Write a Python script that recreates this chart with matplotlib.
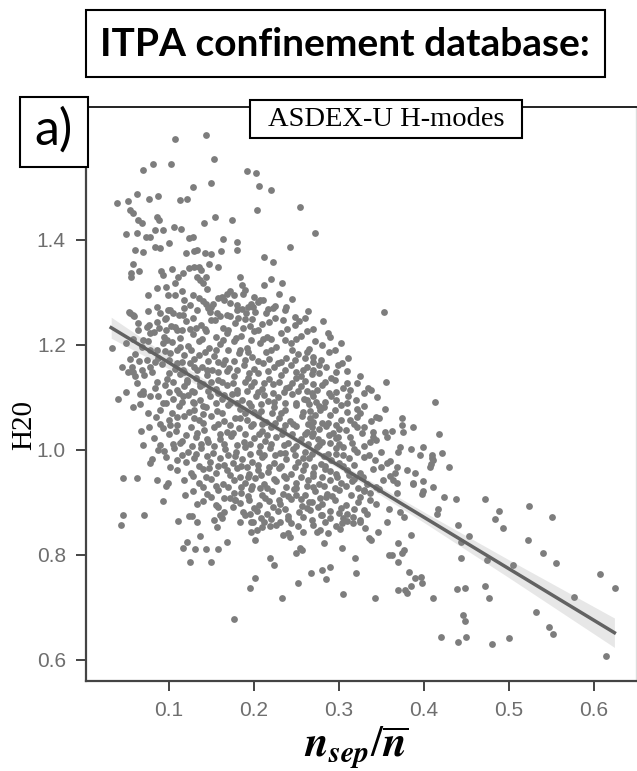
import numpy as np
import matplotlib.pyplot as plt
from matplotlib.patches import Rectangle

plt.rcParams['mathtext.fontset'] = 'stix'

# points above the main cloud (H20 > ~1.25)
upper_pts = [
    (0.107, 1.592), (0.143, 1.600), (0.153, 1.554), (0.081, 1.544), (0.102, 1.544), (0.069, 1.533),
    (0.192, 1.532), (0.202, 1.528), (0.149, 1.508), (0.128, 1.501), (0.062, 1.488), (0.087, 1.483),
    (0.077, 1.478), (0.039, 1.470), (0.052, 1.474), (0.113, 1.476), (0.121, 1.479), (0.054, 1.457),
    (0.058, 1.451), (0.203, 1.457), (0.086, 1.444), (0.088, 1.438), (0.154, 1.443), (0.174, 1.439),
    (0.063, 1.438), (0.068, 1.432), (0.141, 1.433), (0.049, 1.411), (0.062, 1.413), (0.073, 1.406),
    (0.078, 1.405), (0.083, 1.419), (0.093, 1.419), (0.106, 1.425), (0.114, 1.421), (0.124, 1.403),
    (0.128, 1.405), (0.163, 1.402), (0.180, 1.397), (0.180, 1.381), (0.100, 1.395), (0.089, 1.384),
    (0.083, 1.386), (0.060, 1.380), (0.069, 1.378), (0.120, 1.376), (0.129, 1.379), (0.133, 1.381),
    (0.142, 1.376), (0.150, 1.373), (0.161, 1.379), (0.058, 1.354), (0.055, 1.337), (0.055, 1.330),
    (0.065, 1.341), (0.091, 1.340), (0.093, 1.333), (0.104, 1.345), (0.117, 1.337), (0.123, 1.346),
    (0.129, 1.349), (0.135, 1.349), (0.138, 1.343), (0.147, 1.354), (0.158, 1.349), (0.111, 1.330),
    (0.107, 1.318), (0.133, 1.330), (0.136, 1.324), (0.144, 1.330), (0.140, 1.318), (0.184, 1.329),
    (0.186, 1.314), (0.168, 1.298), (0.172, 1.302), (0.176, 1.295), (0.187, 1.297), (0.075, 1.295),
    (0.086, 1.308), (0.097, 1.311), (0.099, 1.295), (0.107, 1.295), (0.118, 1.286), (0.053, 1.262),
    (0.058, 1.257), (0.086, 1.273), (0.099, 1.267), (0.105, 1.260), (0.117, 1.257), (0.144, 1.279),
    (0.150, 1.273), (0.156, 1.260), (0.168, 1.257), (0.180, 1.267), (0.191, 1.260), (0.199, 1.273),
    (0.206, 1.503), (0.220, 1.495), (0.254, 1.462), (0.272, 1.413), (0.242, 1.387), (0.212, 1.367),
    (0.222, 1.359), (0.220, 1.325), (0.212, 1.314), (0.233, 1.319), (0.207, 1.286), (0.211, 1.286),
    (0.197, 1.279), (0.201, 1.263), (0.222, 1.271), (0.264, 1.265), (0.353, 1.262), (0.248, 1.254),
    (0.234, 1.248), (0.054, 1.260), (0.059, 1.255), (0.077, 1.238), (0.086, 1.243), (0.089, 1.260),
    (0.101, 1.267), (0.097, 1.251), (0.074, 1.235), (0.107, 1.235),
]

# dense middle of the cloud
core_pts = [
    (0.115, 1.303), (0.128, 1.296), (0.145, 1.307), (0.162, 1.292), (0.190, 1.305), (0.230, 1.298),
    (0.125, 1.276), (0.140, 1.284), (0.152, 1.279), (0.165, 1.285), (0.180, 1.276), (0.205, 1.282),
    (0.225, 1.274), (0.245, 1.288), (0.075, 1.264), (0.112, 1.258), (0.133, 1.266), (0.148, 1.262),
    (0.172, 1.255), (0.186, 1.268), (0.214, 1.261), (0.236, 1.266), (0.260, 1.252), (0.064, 1.242),
    (0.102, 1.236), (0.120, 1.245), (0.138, 1.238), (0.150, 1.247), (0.163, 1.233), (0.178, 1.241),
    (0.195, 1.236), (0.218, 1.244), (0.248, 1.238), (0.270, 1.231), (0.082, 1.224), (0.094, 1.216),
    (0.128, 1.221), (0.144, 1.226), (0.155, 1.215), (0.168, 1.223), (0.185, 1.218), (0.200, 1.227),
    (0.220, 1.212), (0.232, 1.222), (0.255, 1.217), (0.290, 1.215), (0.050, 1.203), (0.068, 1.196),
    (0.104, 1.205), (0.122, 1.198), (0.135, 1.207), (0.147, 1.195), (0.160, 1.201), (0.176, 1.208),
    (0.192, 1.194), (0.207, 1.203), (0.226, 1.197), (0.244, 1.204), (0.265, 1.193), (0.280, 1.200),
    (0.060, 1.183), (0.087, 1.176), (0.118, 1.181), (0.130, 1.174), (0.142, 1.186), (0.153, 1.179),
    (0.166, 1.172), (0.182, 1.184), (0.198, 1.177), (0.214, 1.186), (0.238, 1.175), (0.252, 1.182),
    (0.270, 1.178), (0.288, 1.186), (0.045, 1.158), (0.092, 1.163), (0.107, 1.155), (0.125, 1.166),
    (0.139, 1.158), (0.151, 1.152), (0.163, 1.164), (0.171, 1.157), (0.188, 1.161), (0.200, 1.154),
    (0.211, 1.166), (0.224, 1.158), (0.243, 1.162), (0.258, 1.153), (0.285, 1.158), (0.310, 1.151),
    (0.071, 1.142), (0.098, 1.136), (0.113, 1.145), (0.132, 1.138), (0.145, 1.143), (0.158, 1.134),
    (0.176, 1.141), (0.193, 1.137), (0.205, 1.146), (0.218, 1.135), (0.232, 1.143), (0.250, 1.138),
    (0.268, 1.144), (0.291, 1.137), (0.325, 1.141), (0.083, 1.118), (0.095, 1.124), (0.118, 1.121),
    (0.127, 1.113), (0.140, 1.126), (0.155, 1.117), (0.168, 1.123), (0.180, 1.114), (0.196, 1.122),
    (0.210, 1.116), (0.222, 1.125), (0.238, 1.118), (0.255, 1.121), (0.262, 1.112), (0.280, 1.124),
    (0.305, 1.118), (0.040, 1.097), (0.078, 1.103), (0.105, 1.098), (0.122, 1.104), (0.137, 1.095),
    (0.148, 1.102), (0.162, 1.097), (0.174, 1.106), (0.186, 1.096), (0.202, 1.103), (0.216, 1.094),
    (0.228, 1.101), (0.245, 1.106), (0.259, 1.097), (0.273, 1.092), (0.288, 1.108), (0.320, 1.096),
    (0.345, 1.101), (0.058, 1.082), (0.090, 1.076), (0.112, 1.084), (0.130, 1.077), (0.143, 1.081),
    (0.156, 1.074), (0.170, 1.085), (0.184, 1.078), (0.197, 1.083), (0.208, 1.075), (0.223, 1.082),
    (0.236, 1.077), (0.250, 1.086), (0.266, 1.074), (0.282, 1.081), (0.295, 1.076), (0.330, 1.084),
    (0.085, 1.062), (0.100, 1.057), (0.118, 1.064), (0.135, 1.058), (0.150, 1.065), (0.165, 1.055),
    (0.178, 1.061), (0.192, 1.057), (0.205, 1.066), (0.214, 1.054), (0.229, 1.061), (0.242, 1.056),
    (0.257, 1.064), (0.270, 1.053), (0.290, 1.066), (0.302, 1.058), (0.338, 1.055), (0.067, 1.037),
    (0.093, 1.042), (0.108, 1.036), (0.126, 1.044), (0.141, 1.038), (0.153, 1.043), (0.168, 1.035),
    (0.182, 1.041), (0.196, 1.046), (0.210, 1.036), (0.220, 1.043), (0.234, 1.038), (0.249, 1.045),
    (0.262, 1.034), (0.276, 1.040), (0.285, 1.046), (0.308, 1.038), (0.330, 1.043), (0.362, 1.037),
    (0.082, 1.022), (0.115, 1.017), (0.132, 1.024), (0.146, 1.016), (0.160, 1.021), (0.173, 1.027),
    (0.188, 1.015), (0.200, 1.022), (0.213, 1.018), (0.226, 1.025), (0.240, 1.014), (0.255, 1.021),
    (0.268, 1.026), (0.280, 1.016), (0.296, 1.022), (0.315, 1.014), (0.340, 1.024), (0.094, 0.998),
    (0.106, 1.004), (0.122, 0.996), (0.138, 1.003), (0.152, 0.995), (0.166, 1.002), (0.179, 0.997),
    (0.190, 1.006), (0.206, 0.996), (0.219, 1.003), (0.231, 0.994), (0.246, 1.001), (0.260, 0.997),
    (0.274, 1.005), (0.287, 0.993), (0.318, 1.002), (0.350, 0.996), (0.385, 1.001), (0.080, 0.982),
    (0.120, 0.977), (0.130, 0.985), (0.148, 0.978), (0.160, 0.984), (0.175, 0.976), (0.186, 0.983),
    (0.198, 0.977), (0.210, 0.986), (0.224, 0.975), (0.238, 0.982), (0.252, 0.978), (0.265, 0.985),
    (0.279, 0.974), (0.291, 0.981), (0.300, 0.976), (0.312, 0.984), (0.360, 0.979), (0.110, 0.962),
    (0.126, 0.957), (0.140, 0.964), (0.155, 0.956), (0.168, 0.961), (0.180, 0.965), (0.194, 0.955),
    (0.205, 0.962), (0.217, 0.958), (0.229, 0.966), (0.243, 0.954), (0.258, 0.961), (0.270, 0.957),
    (0.284, 0.963), (0.296, 0.955), (0.310, 0.962), (0.325, 0.957), (0.340, 0.963), (0.118, 0.943),
    (0.135, 0.937), (0.150, 0.944), (0.164, 0.936), (0.177, 0.942), (0.190, 0.938), (0.201, 0.946),
    (0.212, 0.935), (0.226, 0.941), (0.238, 0.946), (0.250, 0.937), (0.263, 0.943), (0.277, 0.935),
    (0.290, 0.942), (0.302, 0.938), (0.318, 0.945), (0.333, 0.936), (0.352, 0.942), (0.128, 0.921),
    (0.145, 0.916), (0.158, 0.924), (0.185, 0.918), (0.197, 0.925), (0.209, 0.914), (0.221, 0.922),
    (0.234, 0.917), (0.247, 0.926), (0.260, 0.915), (0.272, 0.921), (0.286, 0.917), (0.300, 0.924),
    (0.314, 0.915), (0.330, 0.921), (0.347, 0.926), (0.140, 0.902), (0.155, 0.896), (0.183, 0.899),
    (0.194, 0.905), (0.206, 0.895), (0.218, 0.902), (0.231, 0.897), (0.243, 0.906), (0.256, 0.894),
    (0.268, 0.901), (0.280, 0.897), (0.295, 0.904), (0.308, 0.895), (0.322, 0.901), (0.344, 0.897),
    (0.165, 0.882), (0.190, 0.876), (0.203, 0.884), (0.215, 0.878), (0.228, 0.883), (0.240, 0.875),
    (0.253, 0.881), (0.266, 0.886), (0.279, 0.877), (0.290, 0.884), (0.310, 0.879), (0.330, 0.886),
    (0.212, 0.862), (0.226, 0.857), (0.252, 0.855), (0.270, 0.858), (0.284, 0.862), (0.297, 0.856),
    (0.316, 0.861), (0.183, 1.190), (0.205, 1.170), (0.229, 1.130), (0.190, 1.130), (0.212, 1.105),
    (0.237, 1.090), (0.172, 1.090), (0.199, 1.050), (0.183, 1.060), (0.221, 1.070), (0.246, 1.050),
    (0.260, 1.030), (0.233, 1.030), (0.206, 1.030), (0.190, 1.030), (0.212, 0.990), (0.236, 0.995),
    (0.258, 0.985), (0.271, 0.968), (0.248, 0.968), (0.223, 0.945), (0.193, 0.948), (0.207, 0.928),
    (0.238, 0.930), (0.262, 0.932), (0.280, 0.948), (0.170, 0.930), (0.178, 0.905), (0.168, 1.150),
    (0.155, 1.190), (0.135, 1.180), (0.142, 1.230), (0.160, 1.255), (0.125, 1.230), (0.110, 1.190),
    (0.105, 1.130), (0.150, 1.130), (0.165, 1.105), (0.130, 1.060), (0.145, 1.020), (0.170, 0.990),
    (0.158, 0.970), (0.185, 0.970), (0.275, 1.020), (0.290, 0.960), (0.305, 0.990), (0.315, 0.940),
    (0.285, 0.910), (0.250, 0.915), (0.229, 0.905), (0.265, 0.900), (0.300, 0.880), (0.241, 1.120),
    (0.255, 1.140), (0.269, 1.125), (0.228, 1.165), (0.215, 1.215), (0.210, 1.240), (0.190, 1.250),
    (0.172, 1.280),
]

# second pass over the core, filling between the rows above
core_fill_pts = [
    (0.135, 1.290), (0.158, 1.289), (0.200, 1.292), (0.118, 1.270), (0.146, 1.271), (0.193, 1.272),
    (0.217, 1.268), (0.238, 1.272), (0.095, 1.250), (0.128, 1.251), (0.154, 1.248), (0.181, 1.252),
    (0.198, 1.249), (0.225, 1.251), (0.253, 1.246), (0.063, 1.228), (0.088, 1.232), (0.110, 1.229),
    (0.132, 1.232), (0.170, 1.229), (0.187, 1.232), (0.205, 1.228), (0.239, 1.230), (0.262, 1.226),
    (0.058, 1.212), (0.075, 1.208), (0.098, 1.210), (0.113, 1.214), (0.139, 1.212), (0.163, 1.209),
    (0.179, 1.213), (0.196, 1.210), (0.211, 1.212), (0.236, 1.209), (0.250, 1.212), (0.272, 1.208),
    (0.078, 1.190), (0.095, 1.188), (0.126, 1.190), (0.170, 1.190), (0.193, 1.186), (0.220, 1.190),
    (0.245, 1.190), (0.262, 1.186), (0.295, 1.190), (0.065, 1.170), (0.083, 1.168), (0.100, 1.172),
    (0.115, 1.167), (0.146, 1.170), (0.158, 1.168), (0.177, 1.170), (0.190, 1.172), (0.218, 1.173),
    (0.232, 1.168), (0.248, 1.171), (0.270, 1.168), (0.052, 1.148), (0.068, 1.152), (0.080, 1.149),
    (0.100, 1.146), (0.118, 1.148), (0.133, 1.152), (0.145, 1.152), (0.158, 1.148), (0.180, 1.152),
    (0.194, 1.147), (0.217, 1.150), (0.236, 1.152), (0.250, 1.149), (0.270, 1.152), (0.296, 1.148),
    (0.062, 1.128), (0.086, 1.130), (0.121, 1.130), (0.137, 1.128), (0.162, 1.130), (0.175, 1.127),
    (0.200, 1.130), (0.212, 1.128), (0.245, 1.128), (0.260, 1.132), (0.283, 1.130), (0.310, 1.128),
    (0.070, 1.112), (0.100, 1.110), (0.112, 1.108), (0.130, 1.110), (0.146, 1.112), (0.158, 1.108),
    (0.180, 1.108), (0.192, 1.112), (0.205, 1.110), (0.222, 1.108), (0.235, 1.110), (0.252, 1.112),
    (0.268, 1.108), (0.296, 1.110), (0.330, 1.108), (0.066, 1.088), (0.097, 1.090), (0.115, 1.092),
    (0.128, 1.092), (0.155, 1.089), (0.180, 1.090), (0.194, 1.090), (0.208, 1.088), (0.224, 1.092),
    (0.250, 1.090), (0.265, 1.088), (0.283, 1.092), (0.302, 1.086), (0.075, 1.070), (0.103, 1.070),
    (0.123, 1.072), (0.140, 1.068), (0.162, 1.070), (0.190, 1.070), (0.200, 1.072), (0.232, 1.070),
    (0.258, 1.072), (0.272, 1.066), (0.310, 1.072), (0.325, 1.070), (0.090, 1.050), (0.110, 1.048),
    (0.140, 1.052), (0.158, 1.050), (0.172, 1.048), (0.210, 1.050), (0.225, 1.052), (0.236, 1.048),
    (0.263, 1.050), (0.280, 1.052), (0.296, 1.048), (0.318, 1.050), (0.100, 1.030), (0.120, 1.028),
    (0.133, 1.032), (0.160, 1.030), (0.175, 1.032), (0.215, 1.028), (0.245, 1.030), (0.270, 1.032),
    (0.288, 1.028), (0.300, 1.040), (0.340, 1.035), (0.090, 1.010), (0.105, 1.012), (0.127, 1.008),
    (0.138, 1.012), (0.153, 1.008), (0.165, 1.012), (0.180, 1.010), (0.195, 1.012), (0.207, 1.008),
    (0.220, 1.012), (0.235, 1.010), (0.250, 1.008), (0.263, 1.012), (0.276, 1.010), (0.300, 1.012),
    (0.330, 1.008), (0.115, 0.990), (0.132, 0.992), (0.145, 0.988), (0.178, 0.988), (0.195, 0.992),
    (0.225, 0.990), (0.248, 0.990), (0.268, 0.992), (0.282, 0.988), (0.296, 0.992), (0.335, 0.990),
    (0.135, 0.970), (0.147, 0.966), (0.165, 0.972), (0.192, 0.968), (0.205, 0.972), (0.218, 0.968),
    (0.232, 0.970), (0.260, 0.972), (0.283, 0.970), (0.305, 0.970), (0.318, 0.972), (0.350, 0.968),
    (0.128, 0.950), (0.143, 0.948), (0.172, 0.952), (0.183, 0.948), (0.208, 0.952), (0.235, 0.950),
    (0.255, 0.948), (0.270, 0.950), (0.298, 0.948), (0.312, 0.952), (0.328, 0.948), (0.360, 0.950),
    (0.140, 0.930), (0.155, 0.932), (0.185, 0.930), (0.198, 0.932), (0.215, 0.928), (0.250, 0.928),
    (0.270, 0.930), (0.282, 0.932), (0.295, 0.928), (0.308, 0.932), (0.322, 0.928), (0.150, 0.910),
    (0.165, 0.908), (0.193, 0.912), (0.213, 0.908), (0.240, 0.912), (0.255, 0.906), (0.278, 0.908),
    (0.292, 0.912), (0.325, 0.910), (0.175, 0.892), (0.200, 0.889), (0.222, 0.892), (0.236, 0.888),
    (0.262, 0.890), (0.275, 0.892), (0.302, 0.890), (0.318, 0.888), (0.208, 0.870), (0.220, 0.868),
    (0.240, 0.868), (0.290, 0.870), (0.310, 0.865),
]

# edge of the cloud, left and right of the core
side_pts = [
    (0.033, 1.194), (0.054, 1.173), (0.050, 1.111), (0.066, 1.106), (0.070, 1.106), (0.056, 1.159),
    (0.058, 1.149), (0.060, 1.140), (0.077, 1.044), (0.070, 1.010), (0.078, 0.975), (0.046, 0.947),
    (0.062, 0.946), (0.087, 1.102), (0.093, 1.089), (0.101, 1.048), (0.110, 1.063), (0.087, 1.000),
    (0.097, 0.987), (0.113, 1.013), (0.109, 0.981), (0.101, 0.968), (0.074, 1.171), (0.078, 1.159),
    (0.086, 1.190), (0.093, 1.203), (0.101, 1.184), (0.070, 1.210), (0.078, 1.222), (0.097, 1.229),
    (0.115, 1.229), (0.113, 1.197), (0.109, 1.165), (0.117, 1.152), (0.129, 1.159), (0.121, 1.133),
    (0.109, 1.114), (0.117, 1.102), (0.136, 1.121), (0.129, 1.089), (0.140, 1.083),
    (0.281, 1.246), (0.287, 1.223), (0.302, 1.203), (0.311, 1.175), (0.279, 1.171), (0.277, 1.162),
    (0.299, 1.162), (0.303, 1.165), (0.260, 1.175), (0.262, 1.159), (0.276, 1.146), (0.295, 1.133),
    (0.321, 1.127), (0.334, 1.119), (0.338, 1.114), (0.355, 1.130), (0.313, 1.114), (0.311, 1.102),
    (0.291, 1.102), (0.296, 1.095), (0.274, 1.114), (0.270, 1.102), (0.262, 1.095), (0.321, 1.079),
    (0.309, 1.089), (0.354, 1.078), (0.413, 1.092), (0.277, 1.083), (0.278, 1.076), (0.344, 1.063),
    (0.347, 1.060), (0.321, 1.062), (0.313, 1.057), (0.287, 1.051), (0.266, 1.060), (0.268, 1.044),
    (0.374, 1.060), (0.374, 1.048), (0.375, 1.035), (0.387, 1.044), (0.418, 1.030), (0.354, 1.035),
    (0.356, 1.025), (0.344, 1.019), (0.336, 1.016), (0.327, 1.032), (0.321, 1.044), (0.313, 1.025),
    (0.293, 1.032), (0.299, 1.025), (0.289, 1.013), (0.297, 1.003), (0.305, 1.006), (0.399, 1.006),
    (0.409, 0.990), (0.395, 0.990), (0.421, 0.994), (0.372, 1.006), (0.370, 0.997), (0.321, 0.997),
    (0.329, 0.987), (0.342, 0.981), (0.356, 0.975), (0.368, 0.968), (0.380, 0.962), (0.389, 0.956),
    (0.411, 0.981), (0.407, 0.968), (0.366, 0.956), (0.364, 0.943), (0.387, 0.937), (0.399, 0.940),
    (0.411, 0.930), (0.423, 0.911), (0.399, 0.921), (0.344, 0.930), (0.336, 0.918), (0.329, 0.924),
    (0.410, 0.985), (0.408, 0.973), (0.430, 0.967), (0.398, 0.916), (0.438, 0.906), (0.472, 0.907),
]

# points below the cloud and the high-x tail
lower_pts = [
    (0.488, 0.884), (0.484, 0.868), (0.493, 0.851), (0.524, 0.893), (0.551, 0.873), (0.417, 0.887),
    (0.415, 0.879), (0.440, 0.857), (0.453, 0.837), (0.444, 0.825), (0.522, 0.829), (0.540, 0.803),
    (0.555, 0.785), (0.443, 0.794), (0.474, 0.790), (0.505, 0.781), (0.607, 0.763), (0.625, 0.738),
    (0.397, 0.759), (0.398, 0.746), (0.439, 0.735), (0.448, 0.737), (0.472, 0.740), (0.476, 0.718),
    (0.411, 0.718), (0.577, 0.720), (0.532, 0.692), (0.446, 0.686), (0.448, 0.675), (0.547, 0.663),
    (0.552, 0.650), (0.420, 0.644), (0.440, 0.635), (0.450, 0.644), (0.480, 0.630), (0.500, 0.641),
    (0.614, 0.608), (0.387, 0.935), (0.368, 0.937), (0.368, 0.918), (0.336, 0.905), (0.356, 0.863),
    (0.333, 0.879), (0.325, 0.863), (0.331, 0.851), (0.335, 0.832), (0.338, 0.829), (0.346, 0.844),
    (0.359, 0.887), (0.372, 0.882), (0.376, 0.873), (0.385, 0.839), (0.370, 0.822), (0.376, 0.810),
    (0.374, 0.803), (0.359, 0.800), (0.362, 0.800), (0.370, 0.787), (0.382, 0.768), (0.389, 0.756),
    (0.385, 0.740), (0.380, 0.727), (0.370, 0.733), (0.378, 0.733), (0.342, 0.718), (0.305, 0.725),
    (0.320, 0.765), (0.319, 0.794), (0.304, 0.813), (0.285, 0.754), (0.280, 0.771), (0.289, 0.777),
    (0.267, 0.766), (0.252, 0.746), (0.233, 0.718), (0.201, 0.757), (0.195, 0.738), (0.219, 0.794),
    (0.223, 0.781), (0.250, 0.803), (0.254, 0.813), (0.256, 0.810), (0.282, 0.822), (0.234, 0.838),
    (0.242, 0.835), (0.240, 0.841), (0.258, 0.844), (0.274, 0.844), (0.278, 0.848), (0.287, 0.841),
    (0.301, 0.849), (0.303, 0.860), (0.203, 0.848), (0.209, 0.854), (0.219, 0.855), (0.199, 0.863),
    (0.195, 0.879), (0.231, 0.863), (0.244, 0.860), (0.258, 0.873), (0.268, 0.867), (0.280, 0.876),
    (0.305, 0.870), (0.317, 0.873), (0.325, 0.867), (0.046, 0.877), (0.044, 0.858), (0.071, 0.877),
    (0.093, 0.903), (0.096, 0.931), (0.099, 0.937), (0.119, 0.914), (0.133, 0.898), (0.111, 0.865),
    (0.123, 0.874), (0.127, 0.874), (0.133, 0.863), (0.136, 0.836), (0.121, 0.825), (0.116, 0.814),
    (0.131, 0.811), (0.143, 0.811), (0.158, 0.811), (0.125, 0.786), (0.149, 0.786), (0.153, 0.867),
    (0.156, 0.854), (0.160, 0.876), (0.162, 0.870), (0.168, 0.825), (0.158, 0.892), (0.176, 0.918),
    (0.178, 0.905), (0.172, 0.908), (0.184, 0.863), (0.187, 0.882), (0.197, 0.863), (0.196, 0.844),
    (0.201, 0.829), (0.176, 0.678), (0.086, 0.943),
]

# regression line ends and half width of its confidence band
fit_x = [0.032, 0.624]
fit_y = [1.233, 0.652]
ci_x = [0.032, 0.10, 0.20, 0.30, 0.40, 0.50, 0.624]
ci_half = [0.020, 0.012, 0.006, 0.006, 0.010, 0.017, 0.028]

x_ticks = [0.1, 0.2, 0.3, 0.4, 0.5, 0.6]
y_ticks = [0.6, 0.8, 1.0, 1.2, 1.4]

W, H = 637, 771
fig = plt.figure(figsize=(W / 100, H / 100), dpi=100)
ax = fig.add_axes([86 / W, 1 - 681 / H, 550 / W, 574 / H])

pts = np.array(upper_pts + core_pts + core_fill_pts + side_pts + lower_pts)
ax.scatter(pts[:, 0], pts[:, 1], s=24, color='#7d7d7d', linewidths=0, zorder=2)

slope = (fit_y[1] - fit_y[0]) / (fit_x[1] - fit_x[0])
ci_x = np.array(ci_x)
centre = fit_y[0] + (ci_x - fit_x[0]) * slope
ax.fill_between(ci_x, centre - np.array(ci_half), centre + np.array(ci_half),
                color='#888888', alpha=0.2, linewidth=0, zorder=3)
ax.plot(fit_x, fit_y, color='#626262', lw=2.5, zorder=4)

ax.set_xlim(0.0024, 0.6494)
ax.set_ylim(0.56, 1.6533)
ax.set_xticks(x_ticks)
ax.set_yticks(y_ticks)
ax.set_xticklabels([f'{v:.1f}' for v in x_ticks])
ax.set_yticklabels([f'{v:.1f}' for v in y_ticks])
ax.tick_params(direction='out', length=7.5, width=1.4, color='#444444',
               labelcolor='#6e6e6e', labelsize=15, pad=7)
for lab in ax.get_xticklabels() + ax.get_yticklabels():
    lab.set_fontfamily('Liberation Sans')
ax.tick_params(axis='x', pad=7)

for side in ['left', 'bottom']:
    ax.spines[side].set_color('#444444')
    ax.spines[side].set_linewidth(1.6)
ax.spines['top'].set_color('#222222')
ax.spines['top'].set_linewidth(1.4)
ax.spines['right'].set_color('#dddddd')
ax.spines['right'].set_linewidth(1.0)

ax.set_ylabel('H20', fontfamily='Liberation Serif', fontsize=21)
ax.yaxis.set_label_coords(-0.088, 0.446)

fig.text(356 / W, 1 - 748 / H, r'$\mathbfit{n}_{\mathbfit{sep}}/\overline{\mathbfit{n}}$',
         fontsize=31, ha='center', va='center')


def box(x0, y0, x1, y1):
    fig.patches.append(Rectangle((x0 / W, 1 - y1 / H), (x1 - x0) / W, (y1 - y0) / H,
                                 transform=fig.transFigure, facecolor='white',
                                 edgecolor='black', linewidth=1.5, zorder=5))


box(86, 10, 605, 77)
fig.text(345 / W, 1 - 44 / H, 'ITPA confinement database:', fontfamily='Lato',
         fontweight='bold', fontsize=28, ha='center', va='center', zorder=6)

box(20, 97, 88, 167)
fig.text(54 / W, 1 - 130 / H, 'a)', fontfamily='Lato', fontsize=36,
         ha='center', va='center', zorder=6)

box(250, 100, 522, 138)
fig.text(386 / W, 1 - 119 / H, 'ASDEX-U H-modes', fontfamily='Liberation Serif',
         fontsize=20.5, ha='center', va='center', zorder=6)

fig.savefig('out.png', dpi=100)
